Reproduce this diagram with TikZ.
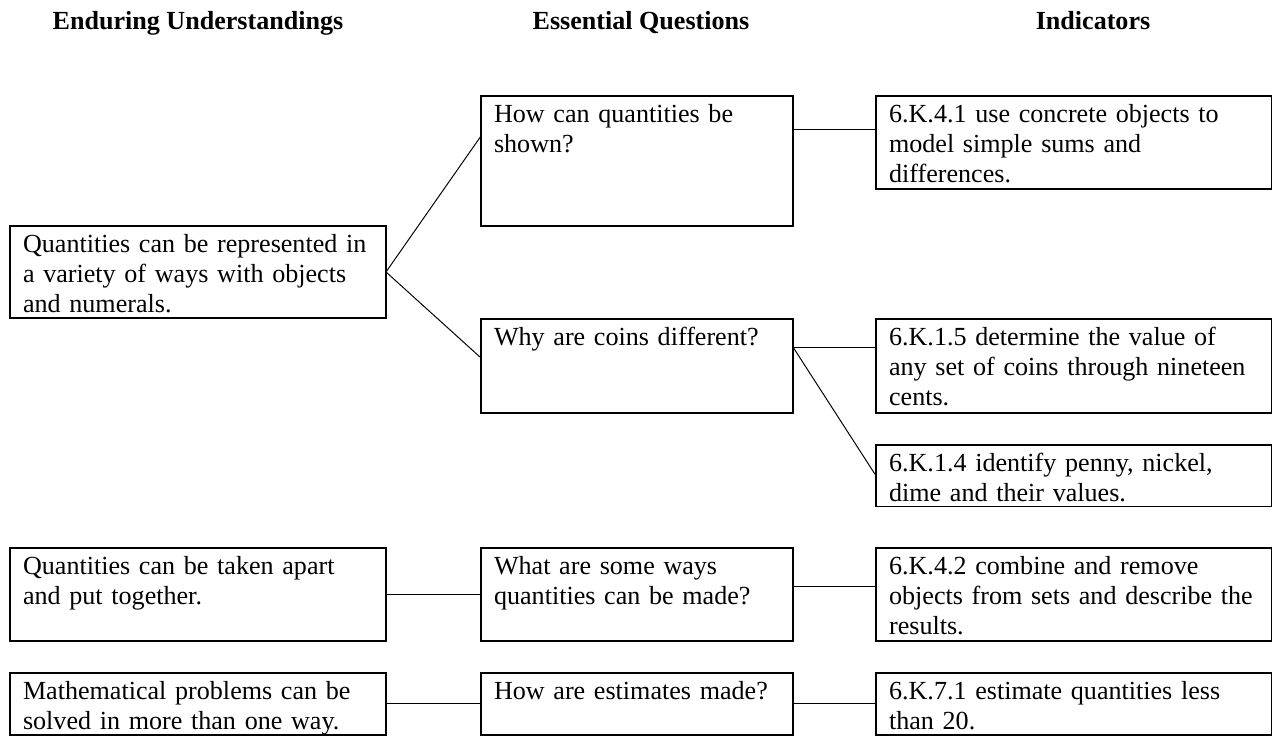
\documentclass[tikz,border=0pt]{standalone}
\usepackage{fontspec}
\setmainfont{Liberation Serif}
\usepackage{tikz}
\usetikzlibrary{positioning}

\begin{document}
\begin{tikzpicture}[x=0.46pt, y=-0.46pt, node distance=38.2pt, line width=0.45pt]
    \tikzstyle{every node}=[font=\fontsize{12}{13.8}\selectfont]
    \tikzstyle{head}=[anchor=base, font=\fontsize{12}{13.8}\selectfont\bfseries]
    \tikzstyle{cell}=[draw, line width=0.6pt, anchor=north west, align=left, outer sep=0pt, inner xsep=6pt, inner ysep=0pt, text height=12.1pt, text depth=30.7pt]
    \tikzstyle{eu}=[text width=160.96pt]
    \tikzstyle{eq}=[text width=131.52pt]
    \tikzstyle{ind}=[text width=169.9pt]
    \tikzstyle{low}=[text depth=16.4pt]

    \useasboundingbox (0,0) rectangle (1273,736);

    \node[head] (hEU) at (198,29) {Enduring Understandings};
    \node[head] (hEQ) at (641,29) {Essential Questions};
    \node[head] (hInd) at (1093,29) {Indicators};

    % quantities can be shown
    \node[cell, eu, text depth=30.2pt] (quant) at (10,226) {Quantities can be represented in\\a variety of ways with objects\\and numerals.};
    \node[cell, eq, text depth=47.7pt] (shown) at (481,96) {How can quantities be\\shown?};
    \node[cell, eq, text depth=31.1pt] (coins) at (481,319) {Why are coins different?};
    \node[cell, ind] (ind41) [right=of shown.north east, anchor=north west] {6.K.4.1 use concrete objects to\\model simple sums and\\differences.};
    \node[cell, ind, text depth=31.1pt] (ind15) [right=of coins.north east, anchor=north west] {6.K.1.5 determine the value of\\any set of coins through nineteen\\cents.};
    \node[cell, ind, low] (ind14) [below=14.7pt of ind15.south west, anchor=north west] {6.K.1.4 identify penny, nickel,\\dime and their values.};

    % taken apart
    \node[cell, eu] (apart) at (10,548) {Quantities can be taken apart\\and put together.};
    \node[cell, eq] (ways) [right=43.7pt of apart.north east, anchor=north west] {What are some ways\\quantities can be made?};
    \node[cell, ind] (ind42) [right=of ways.north east, anchor=north west] {6.K.4.2 combine and remove\\objects from sets and describe the\\results.};

    % estimates
    \node[cell, eu, low] (solved) at (10,673) {Mathematical problems can be\\solved in more than one way.};
    \node[cell, eq, low] (estim) [right=43.7pt of solved.north east, anchor=north west] {How are estimates made?};
    \node[cell, ind, low] (ind71) [right=of estim.north east, anchor=north west] {6.K.7.1 estimate quantities less\\than 20.};

    \path
    (quant.east) edge ([yshift=-18.4pt]shown.north west)
    (quant.east) edge ([yshift=-17.9pt]coins.north west)
    ([yshift=-15.6pt]shown.north east) edge ([yshift=-15.6pt]ind41.north west)
    ([yshift=-12.9pt]coins.north east) edge ([yshift=-12.9pt]ind15.north west)
    ([yshift=-12.9pt]coins.north east) edge (ind14.west)
    (apart.east) edge (ways.west)
    ([yshift=-17.5pt]ways.north east) edge ([yshift=-17.5pt]ind42.north west)
    (solved.east) edge (estim.west)
    (estim.east) edge (ind71.west);

\end{tikzpicture}
\end{document}
